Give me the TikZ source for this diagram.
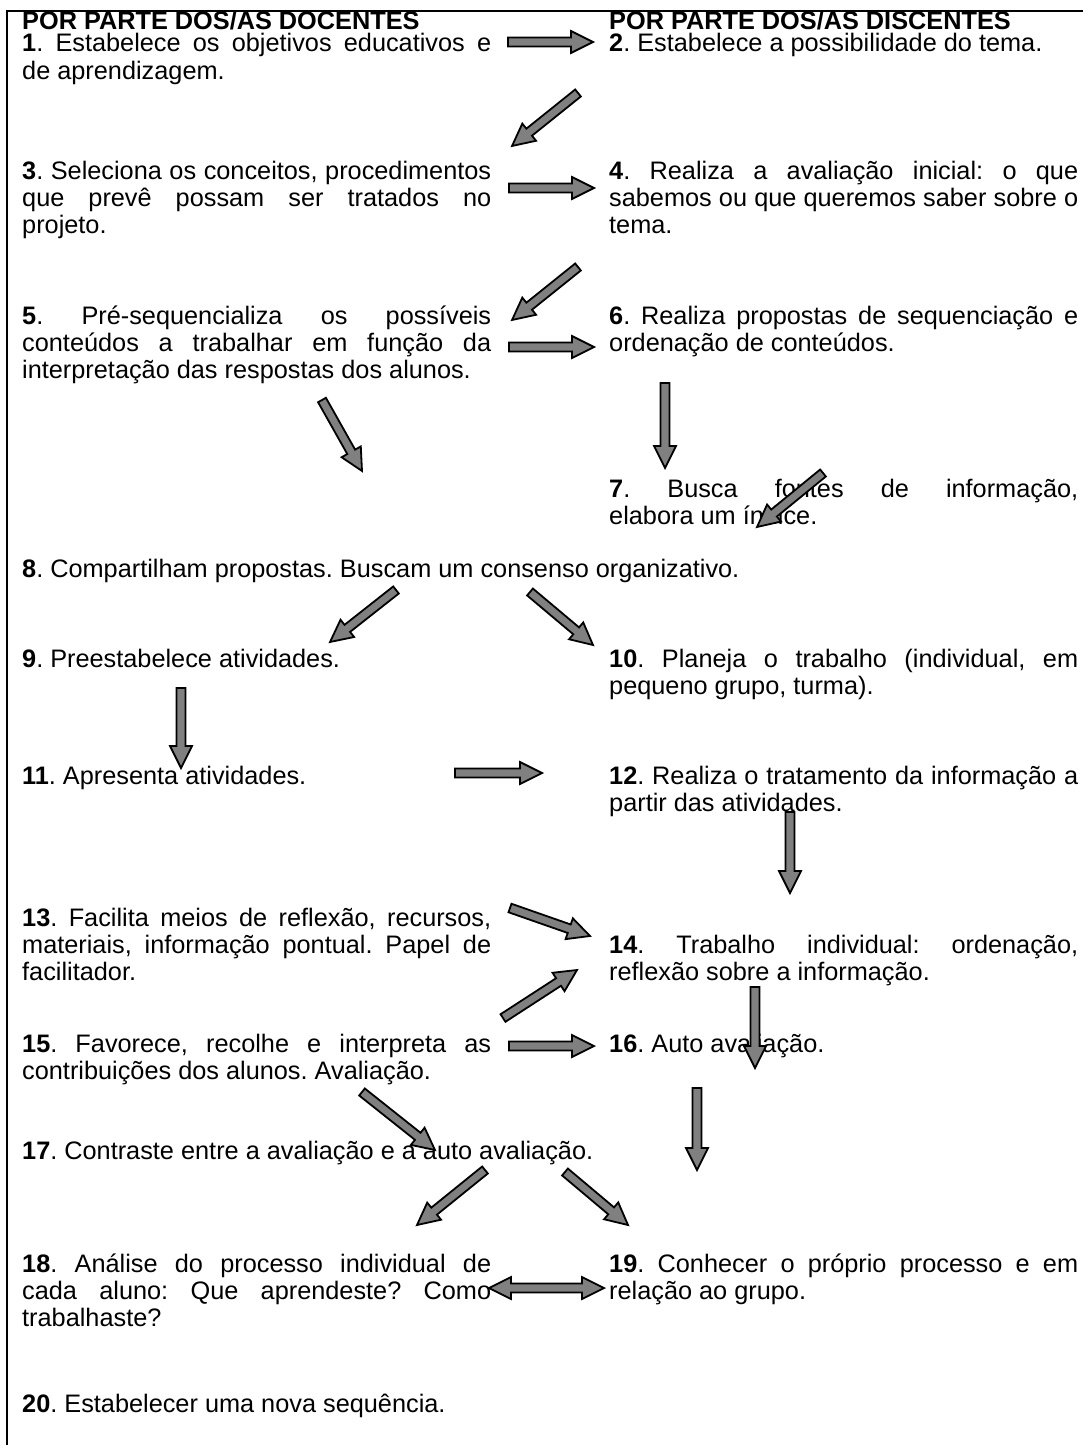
\documentclass[tikz,border=0pt]{standalone}
\usepackage{fontspec}
\setmainfont{Liberation Sans}
\usetikzlibrary{calc}
\definecolor{agray}{RGB}{128,128,128}
\newcommand\bodyfont{\fontsize{25.3pt}{27.3pt}\selectfont\frenchspacing\tolerance=10000\hyphenpenalty=10000\exhyphenpenalty=10000\relax}
\tikzset{
  blk/.style={draw=black, line width=1.8pt, fill=agray, line join=miter},
  txt/.style={anchor=base west, inner sep=0pt, text width=469pt, align=justify, font=\bodyfont},
  txtl/.style={anchor=base west, inner sep=0pt, font=\bodyfont},
  frame/.style={line width=2pt}
}
\newcommand\blkarrow[2]{%
  \path let \p1=($(#2)-(#1)$), \n1={atan2(\y1,\x1)}, \n2={veclen(\x1,\y1)} in
    \pgfextra{\xdef\baang{\n1}\xdef\balen{\n2}};
  \draw[blk,shift={(#1)},rotate=\baang]
    (0pt,-4.5pt) -- ({(\balen-22)*1pt},-4.5pt) -- ({(\balen-22)*1pt},-11pt)
    -- ({\balen*1pt},0pt) -- ({(\balen-22)*1pt},11pt) -- ({(\balen-22)*1pt},4.5pt)
    -- (0pt,4.5pt) -- cycle;
}
\newcommand\dblarrow[2]{%
  \path let \p1=($(#2)-(#1)$), \n1={atan2(\y1,\x1)}, \n2={veclen(\x1,\y1)} in
    \pgfextra{\xdef\baang{\n1}\xdef\balen{\n2}};
  \draw[blk,shift={(#1)},rotate=\baang]
    (0pt,0pt) -- (22pt,11pt) -- (22pt,4.5pt) -- ({(\balen-22)*1pt},4.5pt) -- ({(\balen-22)*1pt},11pt)
    -- ({\balen*1pt},0pt) -- ({(\balen-22)*1pt},-11pt) -- ({(\balen-22)*1pt},-4.5pt)
    -- (22pt,-4.5pt) -- (22pt,-11pt) -- cycle;
}
\begin{document}
\begin{tikzpicture}[x=1pt,y=-1pt]
\useasboundingbox (0,0) rectangle (1083,1445);
\draw[frame] (7,1445) -- (7,11) -- (1083,11);

% headers
\node[txtl] (hl) at (22,30) {\textbf{POR PARTE DOS/AS DOCENTES}};
\node[txtl] (hr) at (609,30) {\textbf{POR PARTE DOS/AS DISCENTES}};

% texts
\node[txt] (t1) at (22,52) {\textbf{1}. Estabelece os objetivos educativos e\linebreak de aprendizagem.};
\node[txt] (t2) at (609,52) {\textbf{2}. Estabelece a possibilidade do tema.};
\node[txt] (t3) at (22,179) {\textbf{3}. Seleciona os conceitos, procedimentos\linebreak que prevê possam ser tratados no\linebreak projeto.};
\node[txt] (t4) at (609,179) {\textbf{4}. Realiza a avaliação inicial: o que\linebreak sabemos ou que queremos saber sobre o\linebreak tema.};
\node[txt] (t5) at (22,324) {\textbf{5}. Pré-sequencializa os possíveis\linebreak conteúdos a trabalhar em função da\linebreak interpretação das respostas dos alunos.};
\node[txt] (t6) at (609,324) {\textbf{6}. Realiza propostas de sequenciação e\linebreak ordenação de conteúdos.};
\node[txt] (t7) at (609,497) {\textbf{7}. Busca fontes de informação,\linebreak elabora um índice.};
\node[txtl] (t8) at (22,577) {\textbf{8}. Compartilham propostas. Buscam um consenso organizativo.};
\node[txt] (t9) at (22,667) {\textbf{9}. Preestabelece atividades.};
\node[txt] (t10) at (609,667) {\textbf{10}. Planeja o trabalho (individual, em\linebreak pequeno grupo, turma).};
\node[txt] (t11) at (22,784) {\textbf{11}. Apresenta atividades.};
\node[txt] (t12) at (609,784) {\textbf{12}. Realiza o tratamento da informação a\linebreak partir das atividades.};
\node[txt] (t13) at (22,926) {\textbf{13}. Facilita meios de reflexão, recursos,\linebreak materiais, informação pontual. Papel de\linebreak facilitador.};
\node[txt] (t14) at (609,953) {\textbf{14}. Trabalho individual: ordenação,\linebreak reflexão sobre a informação.};
\node[txt] (t15) at (22,1052) {\textbf{15}. Favorece, recolhe e interpreta as\linebreak contribuições dos alunos. Avaliação.};
\node[txt] (t16) at (609,1052) {\textbf{16}. Auto avaliação.};
\node[txtl] (t17) at (22,1159) {\textbf{17}. Contraste entre a avaliação e a auto avaliação.};
\node[txt] (t18) at (22,1272) {\textbf{18}. Análise do processo individual de\linebreak cada aluno: Que aprendeste? Como\linebreak trabalhaste?};
\node[txt] (t19) at (609,1272) {\textbf{19}. Conhecer o próprio processo e em\linebreak relação ao grupo.};
\node[txtl] (t20) at (22,1412) {\textbf{20}. Estabelecer uma nova sequência.};

% arrow end points
\coordinate (a1s) at (508,42);   \coordinate (a1e) at (593,42);
\coordinate (a2s) at (578,93);   \coordinate (a2e) at (512,146);
\coordinate (a3s) at (509,188);  \coordinate (a3e) at (594,188);
\coordinate (a4s) at (578,267);  \coordinate (a4e) at (512,320);
\coordinate (a5s) at (509,347);  \coordinate (a5e) at (594,347);
\coordinate (a6s) at (322,400);  \coordinate (a6e) at (362,471);
\coordinate (a7s) at (665,383);  \coordinate (a7e) at (665,468);
\coordinate (a8s) at (823,473);  \coordinate (a8e) at (757,527);
\coordinate (a9s) at (396,590);  \coordinate (a9e) at (330,642);
\coordinate (a10s) at (530,592); \coordinate (a10e) at (593,645);
\coordinate (a11s) at (181,688); \coordinate (a11e) at (181,768);
\coordinate (a12s) at (455,773); \coordinate (a12e) at (542,773);
\coordinate (a13s) at (790,812); \coordinate (a13e) at (790,893);
\coordinate (a14s) at (510,908); \coordinate (a14e) at (590,936);
\coordinate (a15s) at (503,1018);\coordinate (a15e) at (577,970);
\coordinate (a16s) at (755,987); \coordinate (a16e) at (755,1068);
\coordinate (a17s) at (509,1046);\coordinate (a17e) at (594,1046);
\coordinate (a18s) at (697,1088);\coordinate (a18e) at (697,1170);
\coordinate (a19s) at (362,1092);\coordinate (a19e) at (435,1150);
\coordinate (a20s) at (485,1170);\coordinate (a20e) at (417,1225);
\coordinate (a21s) at (565,1172);\coordinate (a21e) at (628,1225);
\coordinate (a22s) at (489,1288);\coordinate (a22e) at (604,1288);

\blkarrow{a1s}{a1e}
\blkarrow{a2s}{a2e}
\blkarrow{a3s}{a3e}
\blkarrow{a4s}{a4e}
\blkarrow{a5s}{a5e}
\blkarrow{a6s}{a6e}
\blkarrow{a7s}{a7e}
\blkarrow{a8s}{a8e}
\blkarrow{a9s}{a9e}
\blkarrow{a10s}{a10e}
\blkarrow{a11s}{a11e}
\blkarrow{a12s}{a12e}
\blkarrow{a13s}{a13e}
\blkarrow{a14s}{a14e}
\blkarrow{a15s}{a15e}
\blkarrow{a16s}{a16e}
\blkarrow{a17s}{a17e}
\blkarrow{a18s}{a18e}
\blkarrow{a19s}{a19e}
\blkarrow{a20s}{a20e}
\blkarrow{a21s}{a21e}
\dblarrow{a22s}{a22e}
\end{tikzpicture}
\end{document}
